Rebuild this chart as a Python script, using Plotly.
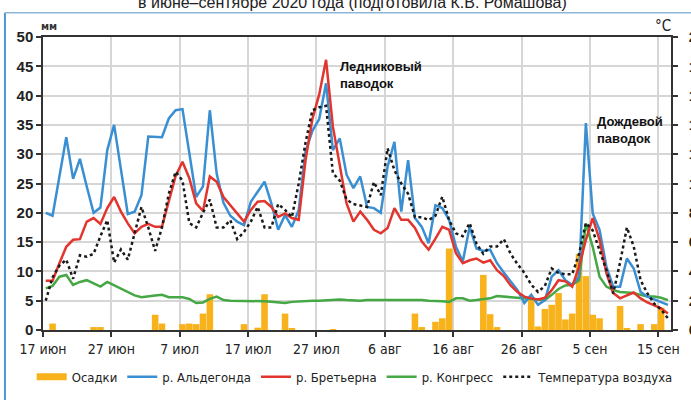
import plotly.graph_objects as go

# ---- data (daily, 17 Jun 2020 -> 16 Sep 2020) ----
day = list(range(92))

tick_labels = ["17 июн", "27 июн", "7 июл", "17 июл", "27 июл",
               "6 авг", "16 авг", "26 авг", "5 сен", "15 сен"]

precip_mm = [0, 1.1, 0, 0, 0, 0, 0, 0.5, 0.5, 0,
             0, 0, 0, 0, 0, 0, 2.6, 1.1, 0, 0,
             1.0, 1.1, 1.0, 2.8, 6.1, 0, 0, 0, 0, 1.0,
             0, 0.4, 6.1, 0, 0, 2.8, 0.2, 0, 0, 0,
             0, 0, 0.1, 0, 0, 0, 0, 0, 0, 0,
             0, 0, 0, 0, 2.8, 0.5, 0, 1.4, 2.0, 13.9,
             0, 0, 0, 0, 9.4, 2.7, 0.5, 0, 0, 0,
             0, 5.5, 0.6, 3.6, 4.3, 6.3, 1.8, 2.8, 13.0, 9.2,
             2.6, 2.0, 0, 0, 4.1, 0.2, 0, 1.0, 0, 1.0,
             3.8, 0]

aldegonda = [20.0, 19.5, 26.2, 32.9, 25.8, 29.2, 24.5, 20.0, 20.9, 30.7,
             35.0, 27.4, 19.8, 20.2, 23.0, 33.0, 33.0, 32.9, 36.1, 37.5,
             37.7, 30.2, 22.7, 24.5, 37.5, 26.7, 21.7, 19.5, 18.5, 17.9,
             21.9, 23.6, 25.3, 21.6, 17.1, 19.6, 17.6, 20.5, 30.5, 34.0,
             36.0, 42.1, 30.7, 32.7, 26.5, 24.2, 26.2, 21.0, 20.8, 20.0,
             27.9, 32.1, 20.2, 29.0, 19.1, 17.6, 14.8, 21.3, 20.8, 18.8,
             14.2, 11.7, 17.6, 13.9, 13.5, 13.7, 11.4, 9.8, 8.3, 6.8,
             4.6, 6.0, 4.3, 5.1, 9.1, 10.2, 8.5, 7.7, 9.1, 35.3,
             19.9, 17.1, 10.8, 7.4, 7.4, 12.2, 10.5, 6.5, 5.7, 5.2,
             4.8, 4.3]

bretjerna = [8.4, 8.4, 11.4, 14.2, 15.4, 15.5, 18.5, 19.1, 18.1, 20.8,
             22.7, 20.2, 18.2, 16.5, 17.6, 18.1, 17.6, 17.6, 22.0, 26.3,
             28.7, 25.9, 21.6, 20.3, 26.2, 25.3, 22.7, 21.3, 19.8, 18.5,
             20.5, 21.9, 22.0, 21.0, 19.3, 19.9, 19.1, 18.8, 29.0, 36.0,
             40.2, 46.1, 34.7, 27.9, 21.6, 18.5, 20.2, 18.8, 17.1, 16.5,
             17.4, 20.8, 18.8, 18.8, 17.4, 15.1, 13.7, 15.6, 17.6, 17.1,
             13.1, 11.4, 11.9, 12.2, 11.5, 11.9, 10.2, 9.2, 7.6, 6.5,
             5.7, 5.4, 5.2, 5.5, 6.8, 8.5, 8.3, 7.4, 10.8, 15.4,
             19.1, 15.4, 9.7, 6.3, 5.4, 5.9, 6.4, 5.4, 4.7, 4.2,
             3.7, 2.8]

kongress = [7.1, 7.5, 9.1, 9.4, 7.7, 8.2, 8.5, 8.0, 7.4, 8.2,
            7.6, 7.0, 6.4, 5.9, 5.6, 5.8, 5.9, 6.0, 5.6, 5.6,
            5.6, 5.3, 4.6, 4.7, 5.3, 5.7, 5.1, 5.0, 5.0, 5.0,
            5.0, 5.0, 4.9, 4.8, 4.7, 4.6, 4.8, 4.9, 5.0, 5.0,
            5.0, 5.1, 5.2, 5.2, 5.1, 5.0, 5.0, 5.1, 5.1, 5.2,
            5.2, 5.2, 5.2, 5.2, 5.2, 5.1, 5.0, 5.0, 4.9, 4.8,
            5.4, 5.4, 5.0, 5.1, 5.2, 5.4, 5.8, 5.7, 5.5, 5.4,
            5.4, 5.3, 5.2, 5.1, 6.0, 7.0, 7.6, 7.7, 8.5, 18.2,
            14.2, 9.1, 7.4, 6.8, 6.5, 6.4, 6.3, 6.0, 5.7, 5.7,
            5.5, 5.1]

air_temp_c = [2.0, 3.6, 4.4, 4.8, 3.5, 5.1, 5.0, 5.2, 6.4, 7.5,
              4.6, 5.5, 4.8, 6.6, 8.4, 7.0, 5.4, 7.0, 9.3, 10.8,
              10.2, 7.3, 7.0, 8.0, 8.9, 7.0, 7.0, 7.5, 6.2, 6.7,
              7.4, 8.4, 7.0, 7.0, 8.6, 8.2, 7.7, 10.0, 12.8, 15.0,
              15.2, 15.3, 10.7, 10.2, 8.9, 8.6, 8.5, 8.4, 10.1, 9.2,
              12.4, 10.9, 10.0, 9.3, 7.7, 7.7, 7.5, 7.8, 9.1, 7.5,
              6.6, 6.4, 7.3, 5.9, 5.2, 5.7, 5.7, 6.2, 5.2, 4.5,
              3.9, 3.1, 2.6, 3.0, 4.2, 3.9, 3.8, 3.8, 5.2, 7.3,
              6.8, 5.5, 4.1, 2.5, 4.6, 7.0, 5.7, 3.4, 2.5, 1.8,
              1.4, 0.8]

# ---- styles ----
FONT = "Liberation Sans Narrow, DejaVu Sans Condensed, Liberation Sans, Arial"
C_RAIN = "#f7b21c"
C_BLUE = "#3a8fd2"
C_RED = "#e2352e"
C_GREEN = "#45a845"
C_TEMP = "#1a1a1a"
GRID = "#d6d6d6"
AX = "#333333"

tickvals = [k * 10 - 0.4 for k in range(len(tick_labels))]

fig = go.Figure()
fig.add_trace(go.Bar(x=day, y=precip_mm, marker=dict(color=C_RAIN, line=dict(width=0)),
                     name="Осадки", showlegend=False))
fig.add_trace(go.Scatter(x=[None], y=[None], mode="lines", name="Осадки", legendrank=1,
                         line=dict(color=C_RAIN, width=7)))
fig.add_trace(go.Scatter(x=day, y=kongress, mode="lines", name="р. Конгресс", legendrank=4,
                         line=dict(color=C_GREEN, width=2.5)))
fig.add_trace(go.Scatter(x=day, y=aldegonda, mode="lines", name="р. Альдегонда", legendrank=2,
                         line=dict(color=C_BLUE, width=2.5)))
fig.add_trace(go.Scatter(x=day, y=bretjerna, mode="lines", name="р. Бретьерна", legendrank=3,
                         line=dict(color=C_RED, width=2.5)))
fig.add_trace(go.Scatter(x=day, y=air_temp_c, mode="lines", name="Температура воздуха",
                         legendrank=5, yaxis="y2",
                         line=dict(color=C_TEMP, width=2.5, dash="dot")))

fig.update_layout(
    width=691, height=400,
    margin=dict(l=43, r=20, t=37, b=70, autoexpand=False),
    paper_bgcolor="white", plot_bgcolor="white",
    font=dict(family=FONT, color=AX),
    bargap=0.04,
    legend=dict(orientation="h", x=-0.018, xanchor="left", y=-0.16, yanchor="middle",
                font=dict(size=13, color="#222"), traceorder="normal",
                itemwidth=30, bgcolor="rgba(0,0,0,0)"),
    xaxis=dict(range=[-0.4, 91.45], tickvals=tickvals, ticktext=tick_labels,
               showgrid=True, gridcolor=GRID, gridwidth=1.5,
               showline=True, linecolor=AX, linewidth=1.5, mirror=True,
               ticks="outside", ticklen=5, tickcolor=AX, tickwidth=1.5,
               tickfont=dict(size=14, color="#222"), zeroline=False, automargin=False),
    yaxis=dict(range=[0, 50], dtick=5, showgrid=True, gridcolor=GRID, gridwidth=1.5,
               showline=True, linecolor=AX, linewidth=1.5,
               ticks="outside", ticklen=5, tickcolor=AX, tickwidth=1.5,
               tickfont=dict(size=15, color="#222", family="Liberation Sans, Arial", weight="bold"),
               zeroline=False, automargin=False),
    yaxis2=dict(range=[0, 20], dtick=2, overlaying="y", side="right", showgrid=False,
                showline=True, linecolor=AX, linewidth=1.5,
                ticks="outside", ticklen=5, tickcolor=AX, tickwidth=1.5, ticklabelstandoff=8,
                tickfont=dict(size=15, color="#222", family="Liberation Sans, Arial", weight="bold"),
                zeroline=False, automargin=False),
)

# frame of the original figure panel
fig.add_shape(type="line", xref="paper", yref="paper", x0=-0.0606, x1=-0.0606,
              y0=1.083, y1=-0.3, line=dict(color="#4a98d8", width=2))
fig.add_shape(type="line", xref="paper", yref="paper", x0=-0.0606, x1=1.1,
              y0=1.083, y1=1.083, line=dict(color="#8fb6d8", width=1.5))

ann = [
    dict(text="в июне–сентябре 2020 года (подготовила К.В. Ромашова)", xref="paper", yref="paper",
         x=0.493, y=1.083, xanchor="center", yanchor="bottom", showarrow=False,
         font=dict(size=16, color="#222", family="Liberation Sans Narrow, Liberation Sans")),
    dict(text="мм", xref="paper", yref="paper", x=0.009, y=1.0355, xanchor="center",
         yanchor="middle", showarrow=False, font=dict(size=11, color="#333", weight="bold")),
    dict(text="°C", xref="paper", yref="paper", x=0.988, y=1.0375, xanchor="center",
         yanchor="middle", showarrow=False, font=dict(size=15, color="#222")),
    dict(text="Ледниковый<br>паводок", xref="x", yref="y", x=42.8, y=46.6, xanchor="left",
         yanchor="top", align="left", showarrow=False,
         font=dict(size=13, color="#111", family="Liberation Sans Narrow, Liberation Sans", weight="bold")),
    dict(text="Дождевой<br>паводок", xref="x", yref="y", x=80.4, y=37.2, xanchor="left",
         yanchor="top", align="left", showarrow=False,
         font=dict(size=13, color="#111", family="Liberation Sans Narrow, Liberation Sans", weight="bold")),
]
fig.update_layout(annotations=ann)

fig.write_html("out.html", config={"displayModeBar": False},
               post_script="document.body.style.margin='0px';")
